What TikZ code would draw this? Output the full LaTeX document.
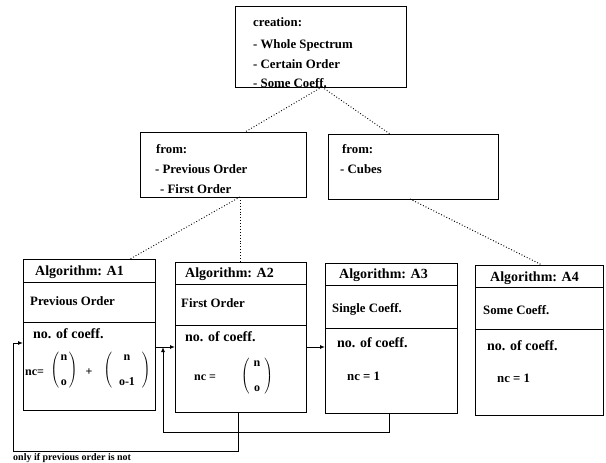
\documentclass[tikz,border=0pt]{standalone}
\usepackage{fontspec}
\setmainfont{Liberation Serif}
\usetikzlibrary{arrows.meta}
\begin{document}
\begin{tikzpicture}[x=1pt,y=-1pt,
  box/.style={draw,line width=1pt,anchor=north west,inner sep=0pt,outer sep=0pt},
  txt/.style={anchor=base west,inner sep=0pt,font=\bfseries\fontsize{12.8}{15}\selectfont},
  htxt/.style={txt,font=\bfseries\fontsize{14}{16}\selectfont},
  ftxt/.style={anchor=center,inner sep=0pt,font=\bfseries\fontsize{12}{14}\selectfont},
  dots/.style={dotted,line width=0.9pt},
  conn/.style={line width=1pt,-{Latex[length=5pt,width=4pt]}}]
\useasboundingbox (0,0) rectangle (606,463);
% top box
\node[box,minimum width=171pt,minimum height=81pt] (T) at (235,6) {};
\node[txt] (t1) at (253,27) {creation:};
\node[txt] (t2) at (253,48) {- Whole Spectrum};
\node[txt] (t3) at (253,68) {- Certain Order};
\node[txt] (t4) at (253,87) {- Some Coeff.};
% middle boxes
\node[box,minimum width=166pt,minimum height=65pt] (M1) at (140,132) {};
\node[txt] (m1a) at (156,153) {from:};
\node[txt] (m1b) at (155,173) {- Previous Order};
\node[txt] (m1c) at (160,193) {- First Order};
\node[box,minimum width=170pt,minimum height=65pt] (M2) at (328,134) {};
\node[txt] (m2a) at (342,153) {from:};
\node[txt] (m2b) at (340,173) {- Cubes};
% algorithm boxes
\node[box,minimum width=132pt,minimum height=151pt] (A1) at (23,259) {};
\draw[line width=1pt] ([yshift=-23pt]A1.north west) -- ([yshift=-23pt]A1.north east);
\draw[line width=1pt] ([yshift=-63pt]A1.north west) -- ([yshift=-63pt]A1.north east);
\node[box,minimum width=131pt,minimum height=150pt] (A2) at (175,262) {};
\draw[line width=1pt] ([yshift=-22pt]A2.north west) -- ([yshift=-22pt]A2.north east);
\draw[line width=1pt] ([yshift=-63pt]A2.north west) -- ([yshift=-63pt]A2.north east);
\node[box,minimum width=132pt,minimum height=150pt] (A3) at (325,263) {};
\draw[line width=1pt] ([yshift=-22pt]A3.north west) -- ([yshift=-22pt]A3.north east);
\draw[line width=1pt] ([yshift=-65pt]A3.north west) -- ([yshift=-65pt]A3.north east);
\node[box,minimum width=128pt,minimum height=150pt] (A4) at (475,265) {};
\draw[line width=1pt] ([yshift=-22pt]A4.north west) -- ([yshift=-22pt]A4.north east);
\draw[line width=1pt] ([yshift=-64pt]A4.north west) -- ([yshift=-64pt]A4.north east);
% A1 texts
\node[htxt] (a1h) at (35,275) {Algorithm: A1};
\node[txt] (a1n) at (30,305) {Previous Order};
\node[htxt] (a1c) at (33,338) {no. of coeff.};
\node[ftxt] (f1nc) at (34.5,373) {nc=};
\node[ftxt] (f1b1) at (64,370) {$\left(\begin{array}{@{\hspace{1.5pt}}c@{\hspace{1.5pt}}}\mbox{n}\\[11pt]\mbox{o}\end{array}\right)$};
\node[ftxt] (f1p) at (89,372) {+};
\node[ftxt] (f1b2) at (127,370) {$\left(\begin{array}{@{\hspace{7pt}}c@{\hspace{7pt}}}\mbox{n}\\[11pt]\mbox{o-1}\end{array}\right)$};
% A2 texts
\node[htxt] (a2h) at (185,277) {Algorithm: A2};
\node[txt] (a2n) at (181,307) {First Order};
\node[htxt] (a2c) at (185,341) {no. of coeff.};
\node[ftxt] (f2nc) at (205,378) {nc =};
\node[ftxt] (f2b) at (257,376) {$\left(\begin{array}{@{\hspace{4pt}}c@{\hspace{4pt}}}\mbox{n}\\[11pt]\mbox{o}\end{array}\right)$};
% A3 texts
\node[htxt] (a3h) at (339,278) {Algorithm: A3};
\node[txt] (a3n) at (332,312) {Single Coeff.};
\node[htxt] (a3c) at (337,347) {no. of coeff.};
\node[txt] (a3f) at (347,380) {nc = 1};
% A4 texts
\node[htxt] (a4h) at (490,281) {Algorithm: A4};
\node[txt] (a4n) at (483,314) {Some Coeff.};
\node[htxt] (a4c) at (487,350) {no. of coeff.};
\node[txt] (a4f) at (497,382) {nc = 1};
% bottom note
\node[txt,font=\bfseries\fontsize{10}{12}\selectfont] (note) at (13,460.5) {only if previous order is not};
% dotted links
\coordinate (tap) at ([xshift=87pt]T.south west);
\draw[dots] (tap) -- ([xshift=105pt]M1.north west);
\draw[dots] (tap) -- ([xshift=62pt]M2.north west);
\coordinate (m1b0) at ([xshift=100pt]M1.south west);
\draw[dots] (m1b0) -- ([xshift=107pt]A1.north west);
\draw[dots] (m1b0) -- (m1b0 |- A2.north);
\coordinate (m2b0) at ([xshift=82pt]M2.south west);
\draw[dots] (m2b0) -- ([xshift=67pt]A4.north west);
% solid connectors
\coordinate (a2in) at ([yshift=-85pt]A2.north west);
\coordinate (a3in) at ([yshift=-84pt]A3.north west);
\coordinate (a1in) at ([yshift=-84pt]A1.north west);
\draw[conn] (a2in -| A1.east) -- (a2in);
\draw[conn] (a3in -| A2.east) -- (a3in);
\coordinate (a3out) at ([xshift=64pt]A3.south west);
\coordinate (lm1) at (163,432);
\coordinate (lm2) at ([xshift=-12pt]a2in);
\draw[conn] (a3out) |- (lm1) -- (lm2);
\coordinate (a2out) at ([xshift=63pt]A2.south west);
\coordinate (ll1) at (13,451);
\draw[conn] (a2out) |- (ll1) |- (a1in);
\end{tikzpicture}
\end{document}
